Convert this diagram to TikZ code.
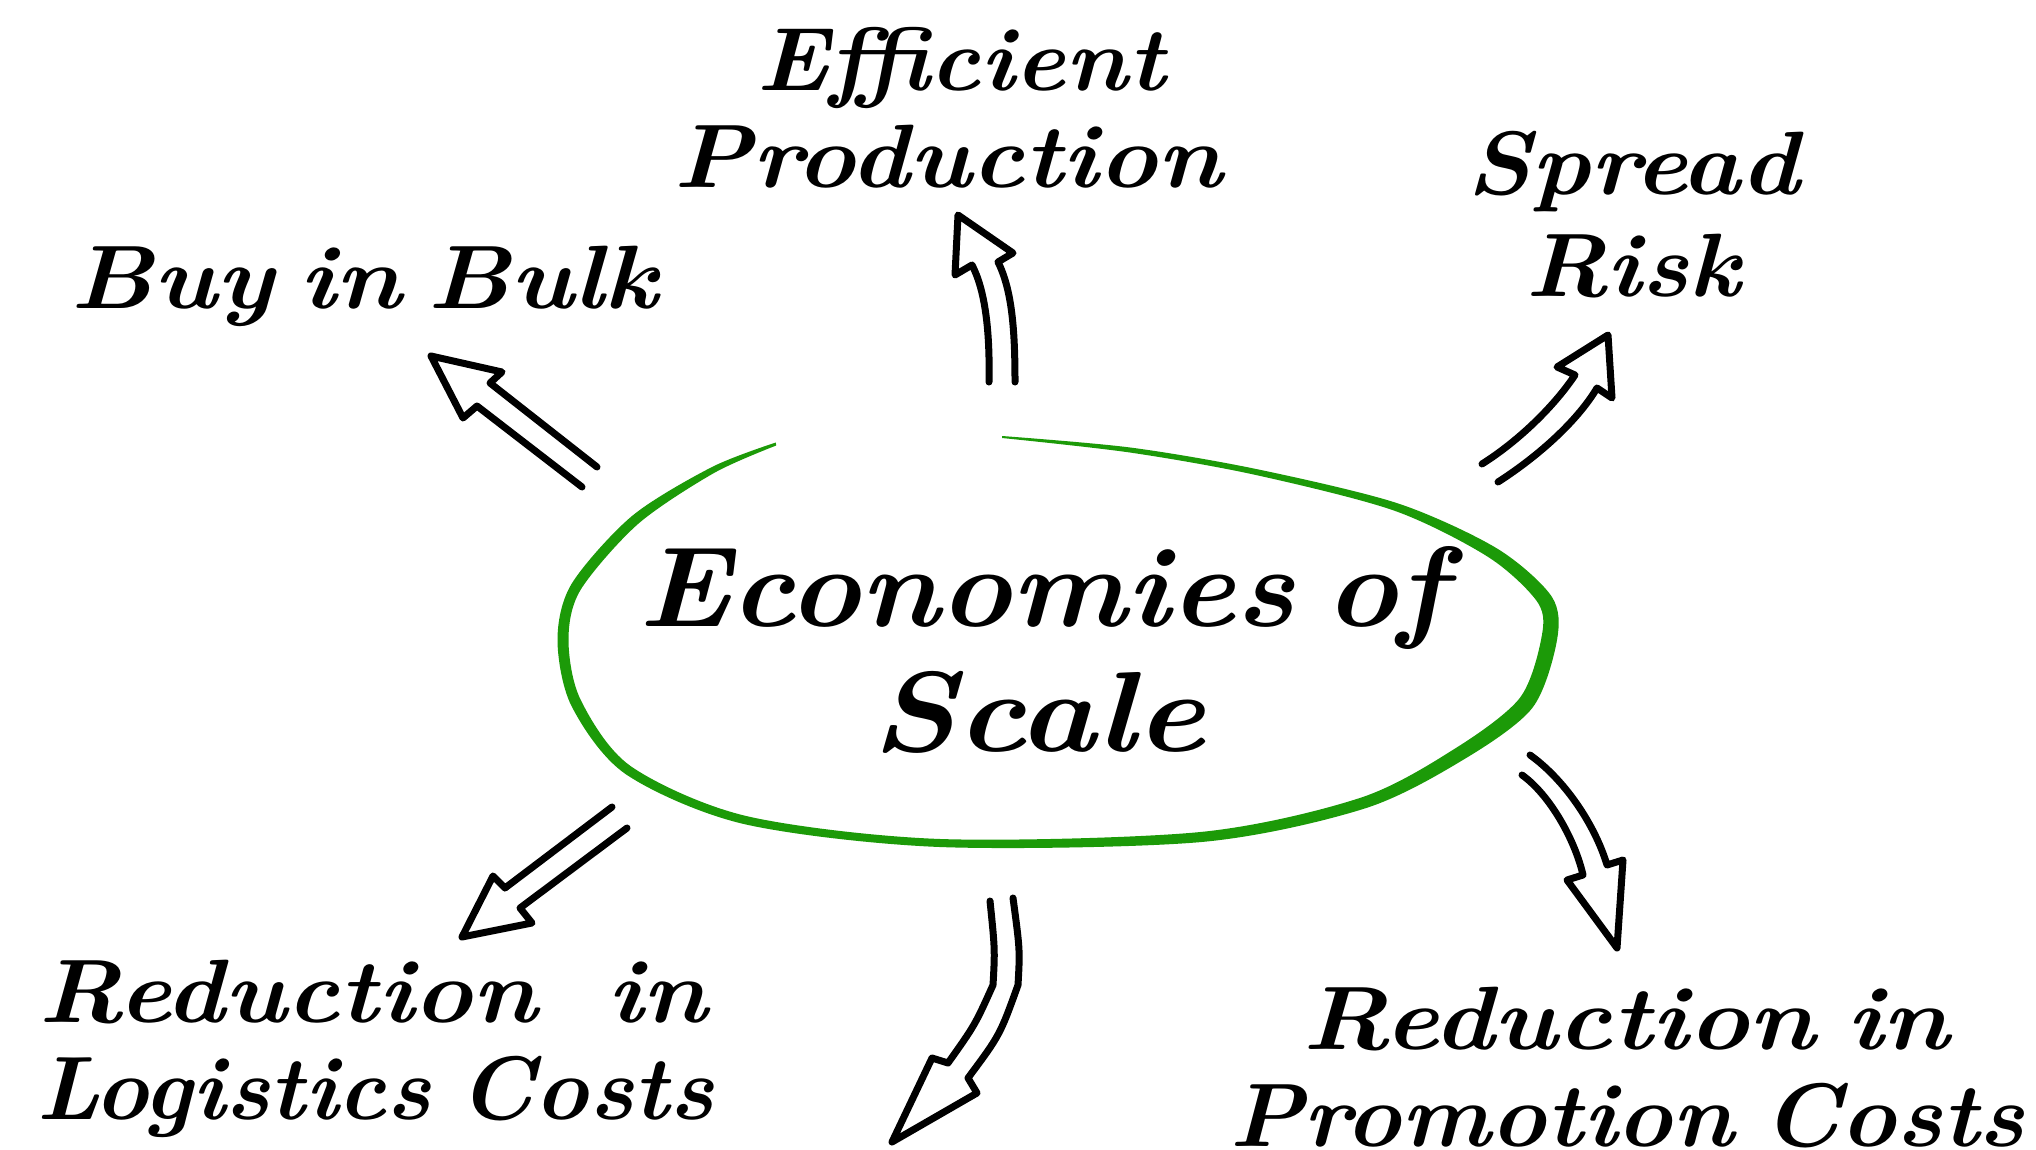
\documentclass[tikz,border=0pt]{standalone}
\usepackage{fontspec}
\definecolor{ringgreen}{RGB}{28,154,8}
\newcommand{\wsp}{\hspace{0.25em}}
\tikzset{
  lbl/.style={font=\fontsize{90}{100}\selectfont\bfseries\itshape, anchor=base, inner sep=0pt},
  ttl/.style={font=\fontsize{114}{120}\selectfont\bfseries\itshape, anchor=base, inner sep=0pt},
  hollow/.style={draw=black, line width=7pt, line join=round, line cap=round},
}
\begin{document}
\begin{tikzpicture}[x=1pt,y=-1pt]
\fill[white] (0,0) rectangle (2036,1150);
\useasboundingbox (0,0) rectangle (2036,1150);

% green ring
\fill[ringgreen] plot[smooth] coordinates {(775.8,442.5) (712,467) (632,516) (571.5,584) (557.5,640) (571.5,706) (625.5,774) (743.8,824) (939.6,847) (1201.6,842) (1364.7,808.5) (1464.7,758.9) (1532.4,707.8) (1557,640) (1551.7,596.6) (1496.9,548.4) (1397.6,503.3) (1256.6,469.1) (1130.2,447.5) (1002,436)}
 -- plot[smooth] coordinates {(1002,438) (1129.8,452.5) (1255.4,474.9) (1394.4,510.7) (1489.1,557.6) (1538.3,603.4) (1541,640) (1519.6,698.2) (1457.3,747.1) (1361.3,797.5) (1200.4,832) (940.4,839) (746.2,816) (630.5,766) (580.5,699.5) (568.5,640) (580.5,590) (638,524) (714,473) (776.2,445.5)} -- cycle;

% texts
\node[lbl, xscale=1.065] (eff) at (961,91) {Efficient};
\node[lbl, xscale=1.11] (prod) at (948,188) {Production};
\node[lbl, xscale=1.13] (bulk) at (364,308) {Buy\wsp in\wsp Bulk};
\node[lbl, xscale=1.11] (spread) at (1633,195) {Spread};
\node[lbl, xscale=1.08] (risk) at (1633,296) {Risk};
\node[ttl, xscale=1.07] (eco) at (1042,626) {Economies\wsp of};
\node[ttl, xscale=1.15] (scale) at (1038,751) {Scale};
\node[lbl, xscale=1.11] (redl) at (373,1022) {Reduction\hspace{0.7em}in};
\node[lbl, xscale=1.02] (logi) at (375,1119) {Logistics\hspace{0.3em}Costs};
\node[lbl, xscale=1.14] (redr) at (1626,1049) {Reduction\hspace{0.3em}in};
\node[lbl, xscale=1.05] (promo) at (1627,1146) {Promotion\hspace{0.3em}Costs};

% arrow to Buy in Bulk
\draw[hollow] (597,467) -- (490,383) -- (502,372) -- (431,356) -- (463,418) -- (477,406) -- (582,487);
% arrow to Efficient Production
\draw[hollow] (1015,382) .. controls (1015,330) and (1012,290) .. (998,262) -- (1013,253) -- (958,215) -- (955,275) -- (972,265) .. controls (985,290) and (990,330) .. (989,382);
% arrow to Spread Risk
\draw[hollow] (1482,464) .. controls (1520,440) and (1555,405) .. (1575,375) -- (1557,367) -- (1608,335) -- (1612,398) -- (1597,388) .. controls (1578,420) and (1540,455) .. (1498,482);
% arrow to Logistics
\draw[hollow] (612,807) -- (505,888) -- (493,876) -- (462,937) -- (532,923) -- (520,908) -- (627,828);
% arrow down centre
\draw[hollow] (990,901) .. controls (995,950) .. (993,985) .. controls (975,1025) .. (948,1063) -- (932,1058) -- (892,1142) -- (977,1093) -- (968,1078) .. controls (1000,1035) .. (1018,985) .. controls (1020,950) .. (1013,898);
% arrow to Promotion
\draw[hollow] (1530,755) .. controls (1565,780) and (1595,825) .. (1607,865) -- (1623,860) -- (1617,948) -- (1567,880) -- (1583,875) .. controls (1575,840) and (1550,795) .. (1522,775);
\end{tikzpicture}
\end{document}
